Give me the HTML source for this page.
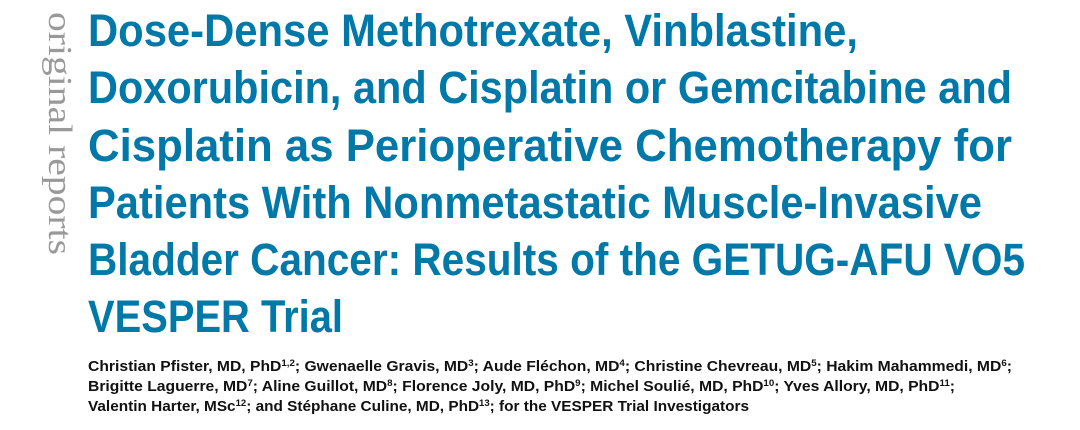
<!DOCTYPE html>
<html><head><meta charset="utf-8"><style>
html,body{margin:0;padding:0;background:#fff;}
svg{display:block;}
.t{font-family:"Liberation Sans",sans-serif;font-weight:bold;font-size:45px;fill:#0078a8;}
.a{font-family:"Liberation Sans",sans-serif;font-weight:bold;font-size:14.5px;fill:#111;}
.s{font-size:9px;}
</style></head><body>
<svg width="1080" height="430" xmlns="http://www.w3.org/2000/svg">
<text transform="translate(49,12) rotate(90)" x="0" y="0" font-family="Liberation Serif,serif" font-size="34" fill="#999" textLength="243" lengthAdjust="spacingAndGlyphs">original reports</text>
<text class="t" x="88" y="46" textLength="770" lengthAdjust="spacingAndGlyphs">Dose-Dense Methotrexate, Vinblastine,</text>
<text class="t" x="88" y="103" textLength="924" lengthAdjust="spacingAndGlyphs">Doxorubicin, and Cisplatin or Gemcitabine and</text>
<text class="t" x="88" y="161" textLength="924" lengthAdjust="spacingAndGlyphs">Cisplatin as Perioperative Chemotherapy for</text>
<text class="t" x="88" y="218" textLength="894" lengthAdjust="spacingAndGlyphs">Patients With Nonmetastatic Muscle-Invasive</text>
<text class="t" x="88" y="275" textLength="937" lengthAdjust="spacingAndGlyphs">Bladder Cancer: Results of the GETUG-AFU VO5</text>
<text class="t" x="88" y="332" textLength="255" lengthAdjust="spacingAndGlyphs">VESPER Trial</text>
<text class="a" x="88" y="371" textLength="924" lengthAdjust="spacingAndGlyphs">Christian Pfister, MD, PhD<tspan class="s" dy="-5">1,2</tspan><tspan dy="5">; Gwenaelle Gravis, MD</tspan><tspan class="s" dy="-5">3</tspan><tspan dy="5">; Aude Fléchon, MD</tspan><tspan class="s" dy="-5">4</tspan><tspan dy="5">; Christine Chevreau, MD</tspan><tspan class="s" dy="-5">5</tspan><tspan dy="5">; Hakim Mahammedi, MD</tspan><tspan class="s" dy="-5">6</tspan><tspan dy="5">;</tspan></text>
<text class="a" x="88" y="391" textLength="867" lengthAdjust="spacingAndGlyphs">Brigitte Laguerre, MD<tspan class="s" dy="-5">7</tspan><tspan dy="5">; Aline Guillot, MD</tspan><tspan class="s" dy="-5">8</tspan><tspan dy="5">; Florence Joly, MD, PhD</tspan><tspan class="s" dy="-5">9</tspan><tspan dy="5">; Michel Soulié, MD, PhD</tspan><tspan class="s" dy="-5">10</tspan><tspan dy="5">; Yves Allory, MD, PhD</tspan><tspan class="s" dy="-5">11</tspan><tspan dy="5">;</tspan></text>
<text class="a" x="88" y="411" textLength="661" lengthAdjust="spacingAndGlyphs">Valentin Harter, MSc<tspan class="s" dy="-5">12</tspan><tspan dy="5">; and Stéphane Culine, MD, PhD</tspan><tspan class="s" dy="-5">13</tspan><tspan dy="5">; for the VESPER Trial Investigators</tspan></text>
</svg>
</body></html>
